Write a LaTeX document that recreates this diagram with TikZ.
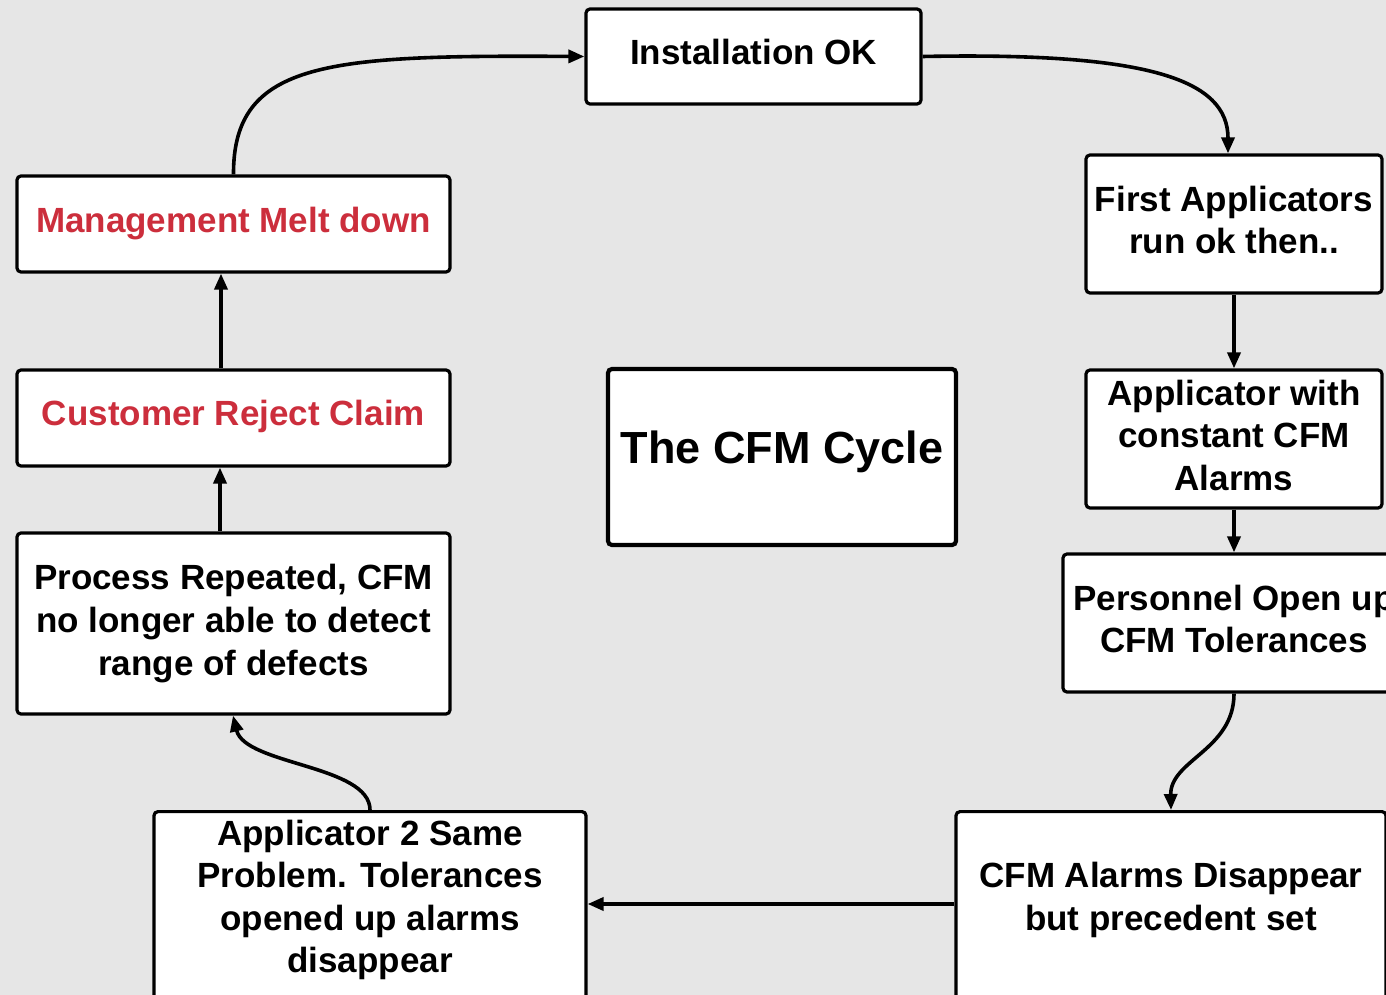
\documentclass[tikz,border=0pt]{standalone}
\usepackage{fontspec}
\setmainfont{Liberation Sans}
\usetikzlibrary{arrows.meta}
\definecolor{bgc}{RGB}{230,230,230}
\definecolor{redt}{RGB}{204,46,60}
\begin{document}
\begin{tikzpicture}[x=0.5pt,y=-0.5pt,
  box/.style={draw=black, line width=1.6pt, rounded corners=2pt, fill=white, inner sep=0pt, align=center, font=\bfseries\fontsize{17.5}{21.3}\selectfont},
  txt/.style={inner sep=0pt, align=center, font=\bfseries\fontsize{17.5}{21.3}\selectfont},
  conn/.style={line width=1.8pt, -{Triangle[length=8pt,width=6.5pt]}}]
\useasboundingbox (0,0) rectangle (1386,995);
\clip (0,0) rectangle (1386,995);
\fill[bgc] (0,0) rectangle (1386,995);

\node[box, minimum width=167.5pt, minimum height=47.5pt, text depth=4.5pt] (inst) at (753.5,56.5) {Installation OK};
\node[box, minimum width=148pt, minimum height=69pt, text depth=4pt] (first) at (1234,224) {First Applicators\\run ok then..};
\node[box, minimum width=148pt, minimum height=69pt, text depth=4pt] (appl) at (1234,439) {Applicator with\\constant CFM\\Alarms};
\node[box, minimum width=171pt, minimum height=69pt, text depth=4pt] (pers) at (1234,623) {Personnel Open up\\CFM Tolerances};
\node[box, minimum width=215pt, minimum height=100pt, anchor=north] (disap) at (1171,810) {};
\node[txt] (disapt) at (1171,900) {CFM Alarms Disappear\\but precedent set};
\node[box, minimum width=216pt, minimum height=100pt, anchor=north] (app2) at (370,810) {};
\node[txt] (app2t) at (370,900) {Applicator 2 Same\\Problem. Tolerances\\opened up alarms\\disappear};
\node[box, minimum width=216.5pt, minimum height=90.5pt] (proc) at (233.5,623.5) {Process Repeated, CFM\\no longer able to detect\\range of defects};
\node[box, minimum width=216.5pt, minimum height=48pt, text=redt, text depth=5.5pt] (cust) at (233.5,418) {Customer Reject Claim};
\node[box, minimum width=216.5pt, minimum height=48pt, text=redt] (mgmt) at (233.5,224) {Management Melt down};
\node[box, line width=2.1pt, minimum width=174pt, minimum height=88pt] (cyc) at (782,457) {};
\node[txt, font=\bfseries\fontsize{22.5}{27}\selectfont] (cyct) at (782,452) {The CFM Cycle};

\draw[conn] (mgmt.north) .. controls (233,60) and (330,55) .. (inst.west);
\draw[conn] (inst.east) .. controls (1150,52) and (1228,80) .. (first.north -| 1228,0);
\draw[conn] (first.south) -- (appl.north);
\draw[conn] (appl.south) -- (pers.north);
\draw[conn] (pers.south) .. controls (1234,750) and (1170,760) .. (disap.north);
\draw[conn] (disap.west |- 0,904) -- (app2.east |- 0,904);
\draw[conn] (app2.north) .. controls (370,765) and (245,765) .. (proc.south -| 233,0);
\draw[conn] (proc.north -| 220,0) -- (cust.south -| 220,0);
\draw[conn] (cust.north -| 221,0) -- (mgmt.south -| 221,0);
\end{tikzpicture}
\end{document}
